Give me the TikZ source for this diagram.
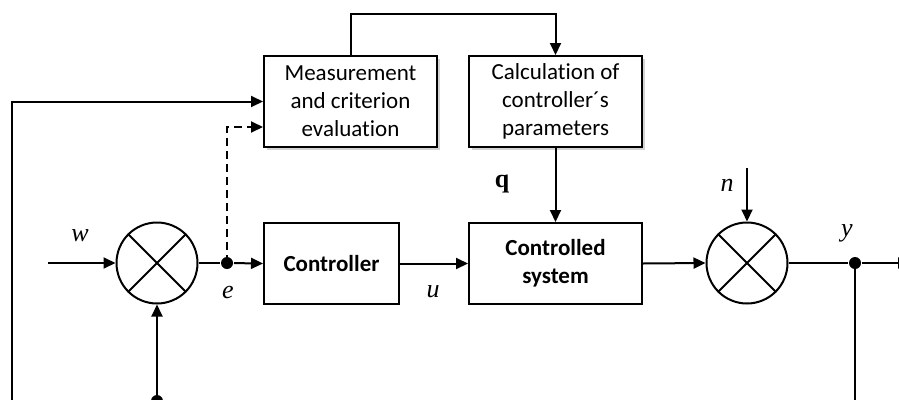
\documentclass[tikz,border=0pt]{standalone}
\usepackage{fontspec}
\setmainfont{Carlito}[Ligatures=NoCommon]
\newfontfamily\tms{Liberation Serif}
\usetikzlibrary{arrows.meta,shadows}
\begin{document}
\begin{tikzpicture}[x=1pt,y=-1pt,
  line width=2pt,
  conn/.style={-{Triangle[length=12pt,width=11pt]}},
  upbox/.style={draw,line width=2pt,fill=white,minimum width=173pt,minimum height=91pt,
    align=center,font=\fontsize{23}{28}\selectfont,inner sep=0pt,
    drop shadow={opacity=0.35,shadow xshift=3pt,shadow yshift=-3pt}},
  lowbox/.style={draw,line width=2pt,fill=white,minimum height=81pt,
    align=center,font=\fontsize{23}{28}\selectfont\bfseries,inner sep=0pt},
  sumj/.style={draw,circle,minimum size=81pt,inner sep=0pt},
  jdot/.style={circle,fill=black,minimum size=12pt,inner sep=0pt},
  lbl/.style={font=\fontsize{26}{28}\selectfont\tms\itshape,inner sep=0pt}]
\useasboundingbox (0,0) rectangle (899,399);
\clip (0,0) rectangle (899,399);

\node[upbox] (meas) at (350.5,101.5) {Measurement\\and criterion\\evaluation};
\node[upbox] (calc) at (555.5,101.5) {Calculation of\\controller´s\\parameters};
\node[lowbox,minimum width=135pt] (ctrl) at (331.5,263.5) {Controller};
\node[lowbox,minimum width=173pt] (plant) at (555.5,263.5) {Controlled\\system};
\node[sumj] (s1) at (157,263) {};
\node[sumj] (s2) at (747,263) {};
\draw (s1.north west) -- (s1.south east) (s1.north east) -- (s1.south west);
\draw (s2.north west) -- (s2.south east) (s2.north east) -- (s2.south west);
\node[jdot] (edot) at (227,263) {};
\node[jdot] (ydot) at (855,263) {};
\node[jdot] (bdot) at (157,401) {};

\coordinate (win) at (48,263);
\coordinate (nin) at (747,168);
\coordinate (yout) at (910,263);
\coordinate (lb) at (12,420);
\coordinate (rb) at (855,420);

\node[lbl] (lw) at (80,236) {w};
\node[lbl] (le) at (228,292) {e};
\node[lbl] (lu) at (433,292) {u};
\node[lbl] (ln) at (727,185) {n};
\node[lbl] (ly) at (847,233) {y};
\node[font=\fontsize{26}{28}\selectfont\tms\bfseries,inner sep=0pt] (lq) at (502,184) {q};

\draw[conn] (win) -- (s1.west);
\draw (s1.east) -- (edot);
\draw[conn] (edot) -- (ctrl.west);
\draw[conn,dash pattern=on 8pt off 5pt] (edot.center) |- ([yshift=-25.5pt]meas.west);
\draw[conn] (lb) |- (meas.west);
\draw[conn] (meas.north) -- ++(0,-41) -| (calc.north);
\draw[conn] (calc.south) -- (plant.north);
\draw[conn] (ctrl.east) -- (plant.west);
\draw[conn] (plant.east) -- (s2.west);
\draw[conn] (nin) -- (s2.north);
\draw (s2.east) -- (ydot);
\draw[conn] (ydot) -- (yout);
\draw (ydot.center) -- (rb);
\draw[conn] (bdot.center) -- (s1.south);
\end{tikzpicture}
\end{document}
